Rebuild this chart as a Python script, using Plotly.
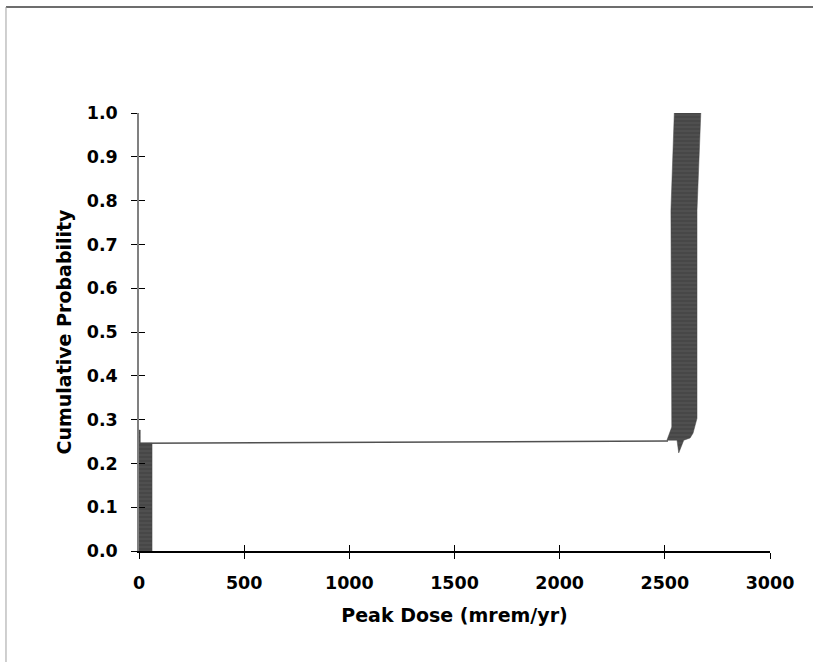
import plotly.graph_objects as go

# Lower cluster of realizations (near-zero peak dose): outline of the band
low_dose = [0, 62, 62, 6, 6, 0]
low_prob = [0.0, 0.0, 0.246, 0.246, 0.276, 0.276]

# Upper cluster of realizations (~2500-2700 mrem/yr): outline of the band
high_dose = [2510, 2533, 2529, 2545, 2671, 2653, 2653, 2634, 2620, 2590, 2566, 2558, 2510]
high_prob = [0.253, 0.283, 0.778, 1.0, 1.0, 0.778, 0.303, 0.269, 0.258, 0.253, 0.224, 0.253, 0.253]

# Jump between the two clusters
link_dose = [4, 2515]
link_prob = [0.246, 0.251]

x_ticks = [0, 500, 1000, 1500, 2000, 2500, 3000]
y_ticks = [0.0, 0.1, 0.2, 0.3, 0.4, 0.5, 0.6, 0.7, 0.8, 0.9, 1.0]

band_color = "#474747"
stripe = dict(shape="-", fgcolor="#6e6e6e", bgcolor=band_color, size=4, solidity=0.2)

fig = go.Figure()
fig.add_trace(go.Scatter(x=link_dose, y=link_prob, mode="lines",
                         line=dict(color="#505050", width=1.6), hoverinfo="skip"))
fig.add_trace(go.Scatter(x=low_dose, y=low_prob, mode="lines", fill="toself",
                         fillcolor=band_color, fillpattern=stripe,
                         line=dict(color=band_color, width=0.5), hoverinfo="skip"))
fig.add_trace(go.Scatter(x=high_dose, y=high_prob, mode="lines", fill="toself",
                         fillcolor=band_color, fillpattern=stripe,
                         line=dict(color=band_color, width=0.5), hoverinfo="skip"))

family = "DejaVu Sans, Verdana, sans-serif"
tick_font = dict(family=family, size=17.5, color="black", weight="bold")
title_font = dict(family=family, size=19, color="black", weight="bold")

fig.update_layout(
    width=813, height=662,
    margin=dict(l=139, r=43, t=113, b=111),
    paper_bgcolor="white", plot_bgcolor="white",
    showlegend=False,
    xaxis=dict(range=[0, 3000], tickvals=x_ticks, ticktext=[str(v) for v in x_ticks],
               ticks="outside", ticklen=6, tickwidth=1, tickcolor="black",
               showline=True, linecolor="black", linewidth=1.5,
               showgrid=False, zeroline=False, tickfont=tick_font, ticklabelstandoff=9,
               title=dict(text="Peak Dose (mrem/yr)", font=title_font, standoff=17)),
    yaxis=dict(range=[0, 1], tickvals=y_ticks, ticktext=[f"{v:.1f}" for v in y_ticks],
               ticks="outside", ticklen=6, tickwidth=1, tickcolor="black",
               showline=True, linecolor="#808080", linewidth=1.5,
               showgrid=False, zeroline=False, tickfont=tick_font, ticklabelstandoff=10,
               title=dict(text="Cumulative Probability", font=title_font, standoff=10)),
    # overlay axes give the tick marks their inner half so they cross the axis lines
    xaxis2=dict(range=[0, 3000], overlaying="x", side="bottom", tickvals=x_ticks,
                ticks="inside", ticklen=6, tickwidth=1, tickcolor="black",
                showticklabels=False, showgrid=False, zeroline=False, showline=False),
    yaxis2=dict(range=[0, 1], overlaying="y", side="left", tickvals=y_ticks,
                ticks="inside", ticklen=6, tickwidth=1, tickcolor="black",
                showticklabels=False, showgrid=False, zeroline=False, showline=False),
    shapes=[
        dict(type="line", xref="paper", yref="paper", x0=-0.2108, x1=1.07, y0=1.242, y1=1.242,
             line=dict(color="#3c3c3c", width=1.5)),
        dict(type="line", xref="paper", yref="paper", x0=-0.2108, x1=-0.2108, y0=1.242, y1=-0.26,
             line=dict(color="#a0a0a0", width=1)),
    ],
)
# an invisible trace binds the overlay axes so they are drawn
fig.add_trace(go.Scatter(x=[0], y=[0], xaxis="x2", yaxis="y2", mode="markers",
                         marker=dict(opacity=0), hoverinfo="skip"))

fig.write_html("out.html")
